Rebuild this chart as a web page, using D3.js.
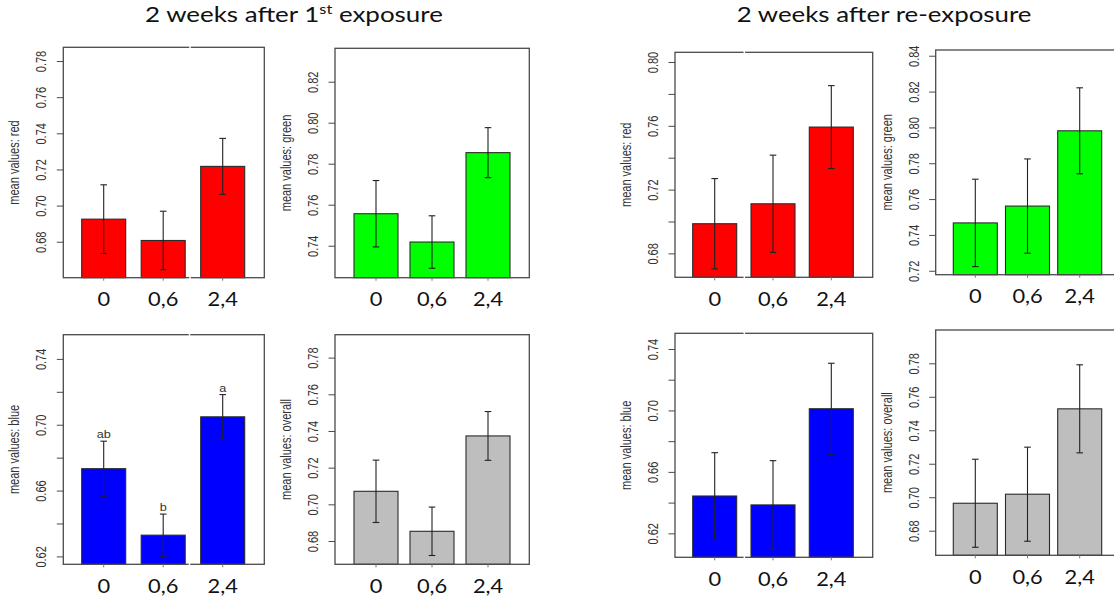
<!DOCTYPE html>
<html><head><meta charset="utf-8">
<script src="https://cdn.jsdelivr.net/npm/d3@7"></script>
<style>body{margin:0;background:#fff}</style>
</head><body>
<svg id="chart" width="1114" height="601"></svg>
<script>
// ---------- data ----------
const categories = ["0", "0,6", "2,4"];

// 2 weeks after 1st exposure
const redFirstMean = [0.6925, 0.6807, 0.7217];
const redFirstSE   = [0.0190, 0.0162, 0.0155];
const greenFirstMean = [0.7556, 0.7418, 0.7854];
const greenFirstSE   = [0.0162, 0.0128, 0.0122];
const blueFirstMean = [0.6733, 0.6329, 0.7048];
const blueFirstSE   = [0.0167, 0.0128, 0.0135];
const overallFirstMean = [0.7071, 0.6853, 0.7373];
const overallFirstSE   = [0.0170, 0.0132, 0.0133];
const blueFirstLetters = ["ab", "b", "a"];

// 2 weeks after re-exposure
const redSecondMean = [0.6986, 0.7111, 0.7592];
const redSecondSE   = [0.0283, 0.0305, 0.0260];
const greenSecondMean = [0.7467, 0.7561, 0.7981];
const greenSecondSE   = [0.0244, 0.0263, 0.0240];
const blueSecondMean = [0.6443, 0.6385, 0.7011];
const blueSecondSE   = [0.0282, 0.0288, 0.0296];
const overallSecondMean = [0.6964, 0.7018, 0.7528];
const overallSecondSE   = [0.0263, 0.0281, 0.0263];

// y limits, ticks and labelled ticks
const redFirstLim = [0.6601, 0.7876];
const redFirstTicks = [0.68, 0.70, 0.72, 0.74, 0.76, 0.78];
const redFirstLabels = [0.68, 0.70, 0.72, 0.74, 0.76, 0.78];
const greenFirstLim = [0.7244, 0.8363];
const greenFirstTicks = [0.74, 0.76, 0.78, 0.80, 0.82];
const greenFirstLabels = [0.74, 0.76, 0.78, 0.80, 0.82];
const blueFirstLim = [0.6152, 0.7547];
const blueFirstTicks = [0.62, 0.64, 0.66, 0.68, 0.70, 0.72, 0.74];
const blueFirstLabels = [0.62, 0.66, 0.70, 0.74];
const overallFirstLim = [0.6673, 0.7925];
const overallFirstTicks = [0.68, 0.70, 0.72, 0.74, 0.76, 0.78];
const overallFirstLabels = [0.68, 0.70, 0.72, 0.74, 0.76, 0.78];

const redSecondLim = [0.6650, 0.8061];
const redSecondTicks = [0.68, 0.70, 0.72, 0.74, 0.76, 0.78, 0.80];
const redSecondLabels = [0.68, 0.72, 0.76, 0.80];
const greenSecondLim = [0.7178, 0.8432];
const greenSecondTicks = [0.72, 0.74, 0.76, 0.78, 0.80, 0.82, 0.84];
const greenSecondLabels = [0.72, 0.74, 0.76, 0.78, 0.80, 0.82, 0.84];
const blueSecondLim = [0.6044, 0.7502];
const blueSecondTicks = [0.62, 0.64, 0.66, 0.68, 0.70, 0.72, 0.74];
const blueSecondLabels = [0.62, 0.66, 0.70, 0.74];
const overallSecondLim = [0.6653, 0.7999];
const overallSecondTicks = [0.68, 0.70, 0.72, 0.74, 0.76, 0.78];
const overallSecondLabels = [0.68, 0.70, 0.72, 0.74, 0.76, 0.78];

const yLabels = ["mean values: red", "mean values: green", "mean values: blue", "mean values: overall"];
const barColors = ["#ff0000", "#00ff00", "#0000ff", "#bebebe"];

// ---------- layout ----------
const panels = [
  {mean: redFirstMean, se: redFirstSE, lim: redFirstLim, ticks: redFirstTicks, labels: redFirstLabels,
   ylab: yLabels[0], color: barColors[0], box: [63.3, 47.3, 264.3, 277.7], bars: [81.7, 244.7], seams: [190]},
  {mean: greenFirstMean, se: greenFirstSE, lim: greenFirstLim, ticks: greenFirstTicks, labels: greenFirstLabels,
   ylab: yLabels[1], color: barColors[1], box: [335, 48.3, 529.3, 277.7], bars: [354, 510], seams: []},
  {mean: blueFirstMean, se: blueFirstSE, lim: blueFirstLim, ticks: blueFirstTicks, labels: blueFirstLabels,
   ylab: yLabels[2], color: barColors[2], box: [63.3, 334.7, 264.3, 564.3], bars: [81.7, 244.7], seams: [189.5],
   letters: blueFirstLetters},
  {mean: overallFirstMean, se: overallFirstSE, lim: overallFirstLim, ticks: overallFirstTicks, labels: overallFirstLabels,
   ylab: yLabels[3], color: barColors[3], box: [335, 334.7, 529.3, 564.3], bars: [354, 510], seams: []},
  {mean: redSecondMean, se: redSecondSE, lim: redSecondLim, ticks: redSecondTicks, labels: redSecondLabels,
   ylab: yLabels[0], color: barColors[0], box: [675, 52.3, 872.7, 277.3], bars: [692.7, 853.3], seams: [744.3]},
  {mean: greenSecondMean, se: greenSecondSE, lim: greenSecondLim, ticks: greenSecondTicks, labels: greenSecondLabels,
   ylab: yLabels[1], color: barColors[1], box: [935.7, 50, 1125, 274.7], bars: [953.3, 1101.7], seams: []},
  {mean: blueSecondMean, se: blueSecondSE, lim: blueSecondLim, ticks: blueSecondTicks, labels: blueSecondLabels,
   ylab: yLabels[2], color: barColors[2], box: [675, 333.3, 872.7, 557.3], bars: [692.7, 853.3], seams: [744.3]},
  {mean: overallSecondMean, se: overallSecondSE, lim: overallSecondLim, ticks: overallSecondTicks, labels: overallSecondLabels,
   ylab: yLabels[3], color: barColors[3], box: [935.7, 330, 1125, 555.3], bars: [953.3, 1101.7], seams: []}
];

const svg = d3.select("#chart");
const RFONT = "'Liberation Sans', Arial, sans-serif";
const PFONT = "Lato, 'Open Sans', sans-serif";
const SX = 1.28;   // horizontal stretch of the original picture
const BW = 44;

function drawPanel(p) {
  const [x0, y0, x1, y1] = p.box;
  const g = svg.append("g");
  const y = d3.scaleLinear().domain(p.lim).range([y1, y0]);
  const span = p.bars[1] - p.bars[0];
  const gap = (span - 3 * BW) / 2;
  const x = d3.scaleBand().domain(categories).range(p.bars)
    .paddingInner(gap / (gap + BW)).paddingOuter(0);

  // bars
  g.selectAll("rect.bar").data(p.mean).join("rect")
    .attr("class", "bar")
    .attr("x", (d, i) => x(categories[i]))
    .attr("y", d => y(d))
    .attr("width", x.bandwidth())
    .attr("height", d => y(p.lim[0]) - y(d))
    .attr("fill", p.color)
    .attr("stroke", "#2a2a2a").attr("stroke-width", 1.1);

  // error bars
  const eb = g.selectAll("g.eb").data(p.mean).join("g").attr("class", "eb")
    .attr("transform", (d, i) => `translate(${x(categories[i]) + x.bandwidth() / 2},0)`);
  eb.append("line").attr("x1", 0).attr("x2", 0)
    .attr("y1", (d, i) => y(d + p.se[i])).attr("y2", (d, i) => y(d - p.se[i]));
  eb.append("line").attr("x1", -3.3).attr("x2", 3.3)
    .attr("y1", (d, i) => y(d + p.se[i])).attr("y2", (d, i) => y(d + p.se[i]));
  eb.append("line").attr("x1", -3.3).attr("x2", 3.3)
    .attr("y1", (d, i) => y(d - p.se[i])).attr("y2", (d, i) => y(d - p.se[i]));
  eb.selectAll("line").attr("stroke", "#222").attr("stroke-width", 1.1);

  // significance letters
  if (p.letters) {
    g.selectAll("text.let").data(p.letters).join("text").attr("class", "let")
      .attr("transform", (d, i) => `translate(${x(categories[i]) + x.bandwidth() / 2},${y(p.mean[i] + p.se[i]) - 3}) scale(1.15,1)`)
      .attr("text-anchor", "middle")
      .style("font-family", RFONT).style("font-size", "11px").attr("fill", "#333")
      .text(d => d);
  }

  // box
  g.append("rect").attr("x", x0).attr("y", y0).attr("width", x1 - x0).attr("height", y1 - y0)
    .attr("fill", "none").attr("stroke", "#4a4a4a").attr("stroke-width", 1.3);

  // seams (white compositing gaps in the frame)
  p.seams.forEach(sx => {
    g.append("line").attr("x1", sx).attr("x2", sx).attr("y1", y0 - 1.5).attr("y2", y0 + 1.5)
      .attr("stroke", "#fff").attr("stroke-width", 1.5);
    g.append("line").attr("x1", sx).attr("x2", sx).attr("y1", y1 - 1.5).attr("y2", y1 + 1.5)
      .attr("stroke", "#fff").attr("stroke-width", 1.5);
  });

  // y axis
  const ya = g.append("g").attr("transform", `translate(${x0},0)`)
    .call(d3.axisLeft(y).tickValues(p.ticks).tickSize(6.5).tickSizeOuter(0)
      .tickFormat(d => p.labels.some(v => Math.abs(v - d) < 1e-9) ? d.toFixed(2) : ""));
  ya.select(".domain").remove();
  ya.selectAll(".tick line").attr("stroke", "#4a4a4a").attr("stroke-width", 1);
  ya.selectAll(".tick text")
    .attr("x", null).attr("dy", null)
    .attr("transform", `translate(-21.5,0) scale(${SX},1) rotate(-90)`)
    .attr("text-anchor", "middle").attr("dominant-baseline", "central")
    .style("font-family", RFONT).style("font-size", "11px").attr("fill", "#333");

  // y label
  g.append("text")
    .attr("transform", `translate(${x0 - 48.5},${(y0 + y1) / 2}) scale(${SX},1) rotate(-90)`)
    .attr("text-anchor", "middle").attr("dominant-baseline", "central")
    .style("font-family", RFONT).style("font-size", "11px").attr("fill", "#333")
    .text(p.ylab);

  // x axis (ticks + category labels)
  const xa = g.append("g").attr("transform", `translate(0,${y1})`)
    .call(d3.axisBottom(x).tickSize(3).tickSizeOuter(0));
  xa.select(".domain").remove();
  xa.selectAll(".tick line").attr("stroke", "#777").attr("stroke-width", 1);
  xa.selectAll(".tick text")
    .attr("y", null).attr("dy", null)
    .attr("transform", `translate(0,21) scale(1.18,1)`)
    .attr("dominant-baseline", "central")
    .style("font-family", PFONT).style("font-size", "18.5px").attr("fill", "#111");
}

panels.forEach(drawPanel);

// titles
function title(parts, left, right, baseline) {
  const t = svg.append("text").attr("x", 0).attr("y", 0)
    .style("font-family", PFONT).style("font-size", "20.5px").attr("fill", "#111");
  parts.forEach(pt => {
    const ts = t.append("tspan").text(pt.t);
    if (pt.sup) ts.style("font-size", "13px").attr("dy", -8);
    else if (pt.after) ts.attr("dy", 8);
  });
  const w = t.node().getComputedTextLength();
  t.attr("transform", `translate(${left},${baseline}) scale(${(right - left) / w},1)`);
}
title([{t: "2 weeks after 1"}, {t: "st", sup: true}, {t: " exposure", after: true}], 145, 443, 22);
title([{t: "2 weeks after re-exposure"}], 736.7, 1031.7, 22);
</script>
</body></html>
